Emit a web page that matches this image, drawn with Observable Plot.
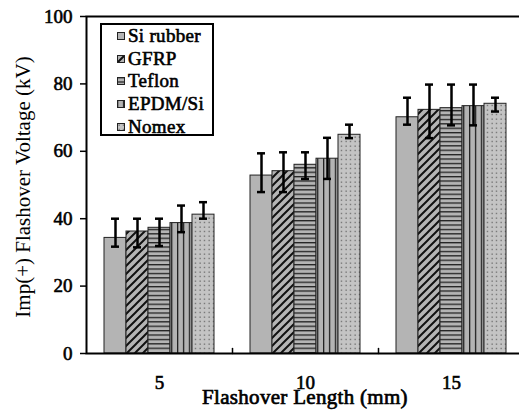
<!DOCTYPE html>
<html><head><meta charset="utf-8">
<script src="https://cdn.jsdelivr.net/npm/d3@7"></script>
<script src="https://cdn.jsdelivr.net/npm/@observablehq/plot@0.6"></script>
<style>
html,body{margin:0;padding:0;background:#fff;overflow:hidden;}
#wrap{position:relative;width:519px;height:410px;overflow:hidden;font-family:"Liberation Serif","Times New Roman",Tinos,serif;color:#000;}
#ytitle{position:absolute;left:23px;top:187px;transform:translate(-50%,-50%) rotate(-90deg);white-space:nowrap;font-size:21px;line-height:21px;}
#xtitle{position:absolute;left:305px;top:387px;transform:translateX(-50%);white-space:nowrap;font-size:21px;line-height:21px;letter-spacing:0.3px;-webkit-text-stroke:0.7px #000;}
#legend{position:absolute;left:100px;top:23px;width:110px;height:109px;border:2px solid #000;background:#fff;}
#legend .row{height:22.6px;font-size:19px;letter-spacing:0.3px;-webkit-text-stroke:0.6px #000;white-space:nowrap;padding-left:15px;display:flex;align-items:center;}
#legend svg{margin-right:3px;flex:none;}
#chart svg text{stroke:#000;stroke-width:0.6px;}
</style></head>
<body>
<svg width="0" height="0" style="position:absolute">
  <defs>
    <pattern id="p0" patternUnits="userSpaceOnUse" width="8" height="8">
      <rect width="8" height="8" fill="#b4b4b4"/>
    </pattern>
    <pattern id="p1" patternUnits="userSpaceOnUse" width="8" height="8">
      <rect width="8" height="8" fill="#b4b4b4"/>
      <path d="M-2,2 L2,-2 M0,8 L8,0 M6,10 L10,6" stroke="#111" stroke-width="2"/>
    </pattern>
    <pattern id="p2" patternUnits="userSpaceOnUse" width="8" height="4.4">
      <rect width="8" height="4.4" fill="#b4b4b4"/>
      <rect y="0" width="8" height="1.3" fill="#222"/>
    </pattern>
    <pattern id="p3" patternUnits="userSpaceOnUse" width="5.9" height="8">
      <rect width="5.9" height="8" fill="#b4b4b4"/>
      <rect x="0" width="1.3" height="8" fill="#222"/>
    </pattern>
    <pattern id="p4" patternUnits="userSpaceOnUse" width="4.5" height="4.5">
      <rect width="4.5" height="4.5" fill="#c4c4c4"/>
      <rect x="1.5" y="1.5" width="1.2" height="1.2" fill="#555"/>
    </pattern>
  </defs>
</svg>
<div id="wrap">
  <div id="chart"></div>
  <div id="ytitle">Imp(+) Flashover Voltage (kV)</div>
  <div id="xtitle">Flashover Length (mm)</div>
  <div id="legend"></div>
</div>
<script>
const lengths = [5, 10, 15];
const materials = ["Si rubber", "GFRP", "Teflon", "EPDM/Si", "Nomex"];
const patterns = ["url(#p0)", "url(#p1)", "url(#p2)", "url(#p3)", "url(#p4)"];
const yTicks = [0, 20, 40, 60, 80, 100];

const siRubber = [34.3, 52.8, 70.1];
const siRubberLow = [31.7, 47.9, 67.9];
const siRubberHigh = [40.0, 59.4, 75.9];
const gfrp = [36.2, 54.1, 72.3];
const gfrpLow = [31.5, 47.9, 63.9];
const gfrpHigh = [40.0, 59.7, 79.8];
const teflon = [37.3, 56.0, 72.8];
const teflonLow = [31.9, 51.8, 67.7];
const teflonHigh = [40.0, 59.7, 79.8];
const epdm = [38.7, 57.8, 73.4];
const epdmLow = [36.0, 51.8, 67.7];
const epdmHigh = [43.9, 64.0, 79.8];
const nomex = [41.2, 64.9, 74.1];
const nomexLow = [40.0, 63.9, 71.8];
const nomexHigh = [44.9, 67.9, 75.9];

const series = [
  [siRubber, siRubberLow, siRubberHigh],
  [gfrp, gfrpLow, gfrpHigh],
  [teflon, teflonLow, teflonHigh],
  [epdm, epdmLow, epdmHigh],
  [nomex, nomexLow, nomexHigh]
];
const data = [];
lengths.forEach((L, i) => {
  materials.forEach((m, j) => {
    data.push({length: L, material: m, value: series[j][0][i], lo: series[j][1][i], hi: series[j][2][i]});
  });
});

const font = "'Liberation Serif', 'Times New Roman', Tinos, serif";
const plot = Plot.plot({
  width: 524,
  height: 410,
  marginTop: 16,
  marginBottom: 57,
  marginLeft: 86,
  marginRight: 0,
  style: {fontFamily: font, fontSize: "19px", maxWidth: "none", background: "transparent"},
  fx: {domain: lengths, padding: 0, label: null},
  x: {domain: materials, paddingInner: 0, paddingOuter: 0.76, axis: null},
  y: {domain: [0, 100], label: null},
  color: {domain: materials, range: patterns},
  marks: [
    Plot.barY(data, {fx: "length", x: "material", y: "value", fill: "material", stroke: "#222", strokeWidth: 1}),
    Plot.ruleX(data, {fx: "length", x: "material", y1: "lo", y2: "hi", stroke: "#000", strokeWidth: 2.5}),
    Plot.tickY(data, {fx: "length", x: "material", y: "lo", stroke: "#000", strokeWidth: 2.5, insetLeft: 7, insetRight: 7}),
    Plot.tickY(data, {fx: "length", x: "material", y: "hi", stroke: "#000", strokeWidth: 2.5, insetLeft: 7, insetRight: 7}),
    Plot.vector([0], {y: d => d, frameAnchor: "right", length: 5, rotate: 0, anchor: "start", stroke: "#000", strokeWidth: 1.5,
      shape: {draw(context, l) { context.moveTo(0, 0); context.lineTo(0, -l); }}}),
    Plot.axisY({ticks: yTicks, tickSize: 6, tickPadding: 8, fontSize: 19, fontFamily: font, label: null, strokeWidth: 1.5}),
    Plot.axisFx({anchor: "bottom", tickSize: 0, tickPadding: 22, fontSize: 19, fontFamily: font, label: null}),
    Plot.frame({facet: "super", stroke: "#000", strokeWidth: 2})
  ]
});
document.getElementById("chart").appendChild(plot);

const legend = d3.select("#legend");
materials.forEach((m, j) => {
  const row = legend.append("div").attr("class", "row");
  const s = row.append("svg").attr("width", 8).attr("height", 8);
  s.append("rect").attr("x", 0.5).attr("y", 0.5).attr("width", 7).attr("height", 7)
    .attr("fill", patterns[j]).attr("stroke", "#222").attr("stroke-width", 1);
  row.append("span").text(m);
});
</script>
</body></html>
